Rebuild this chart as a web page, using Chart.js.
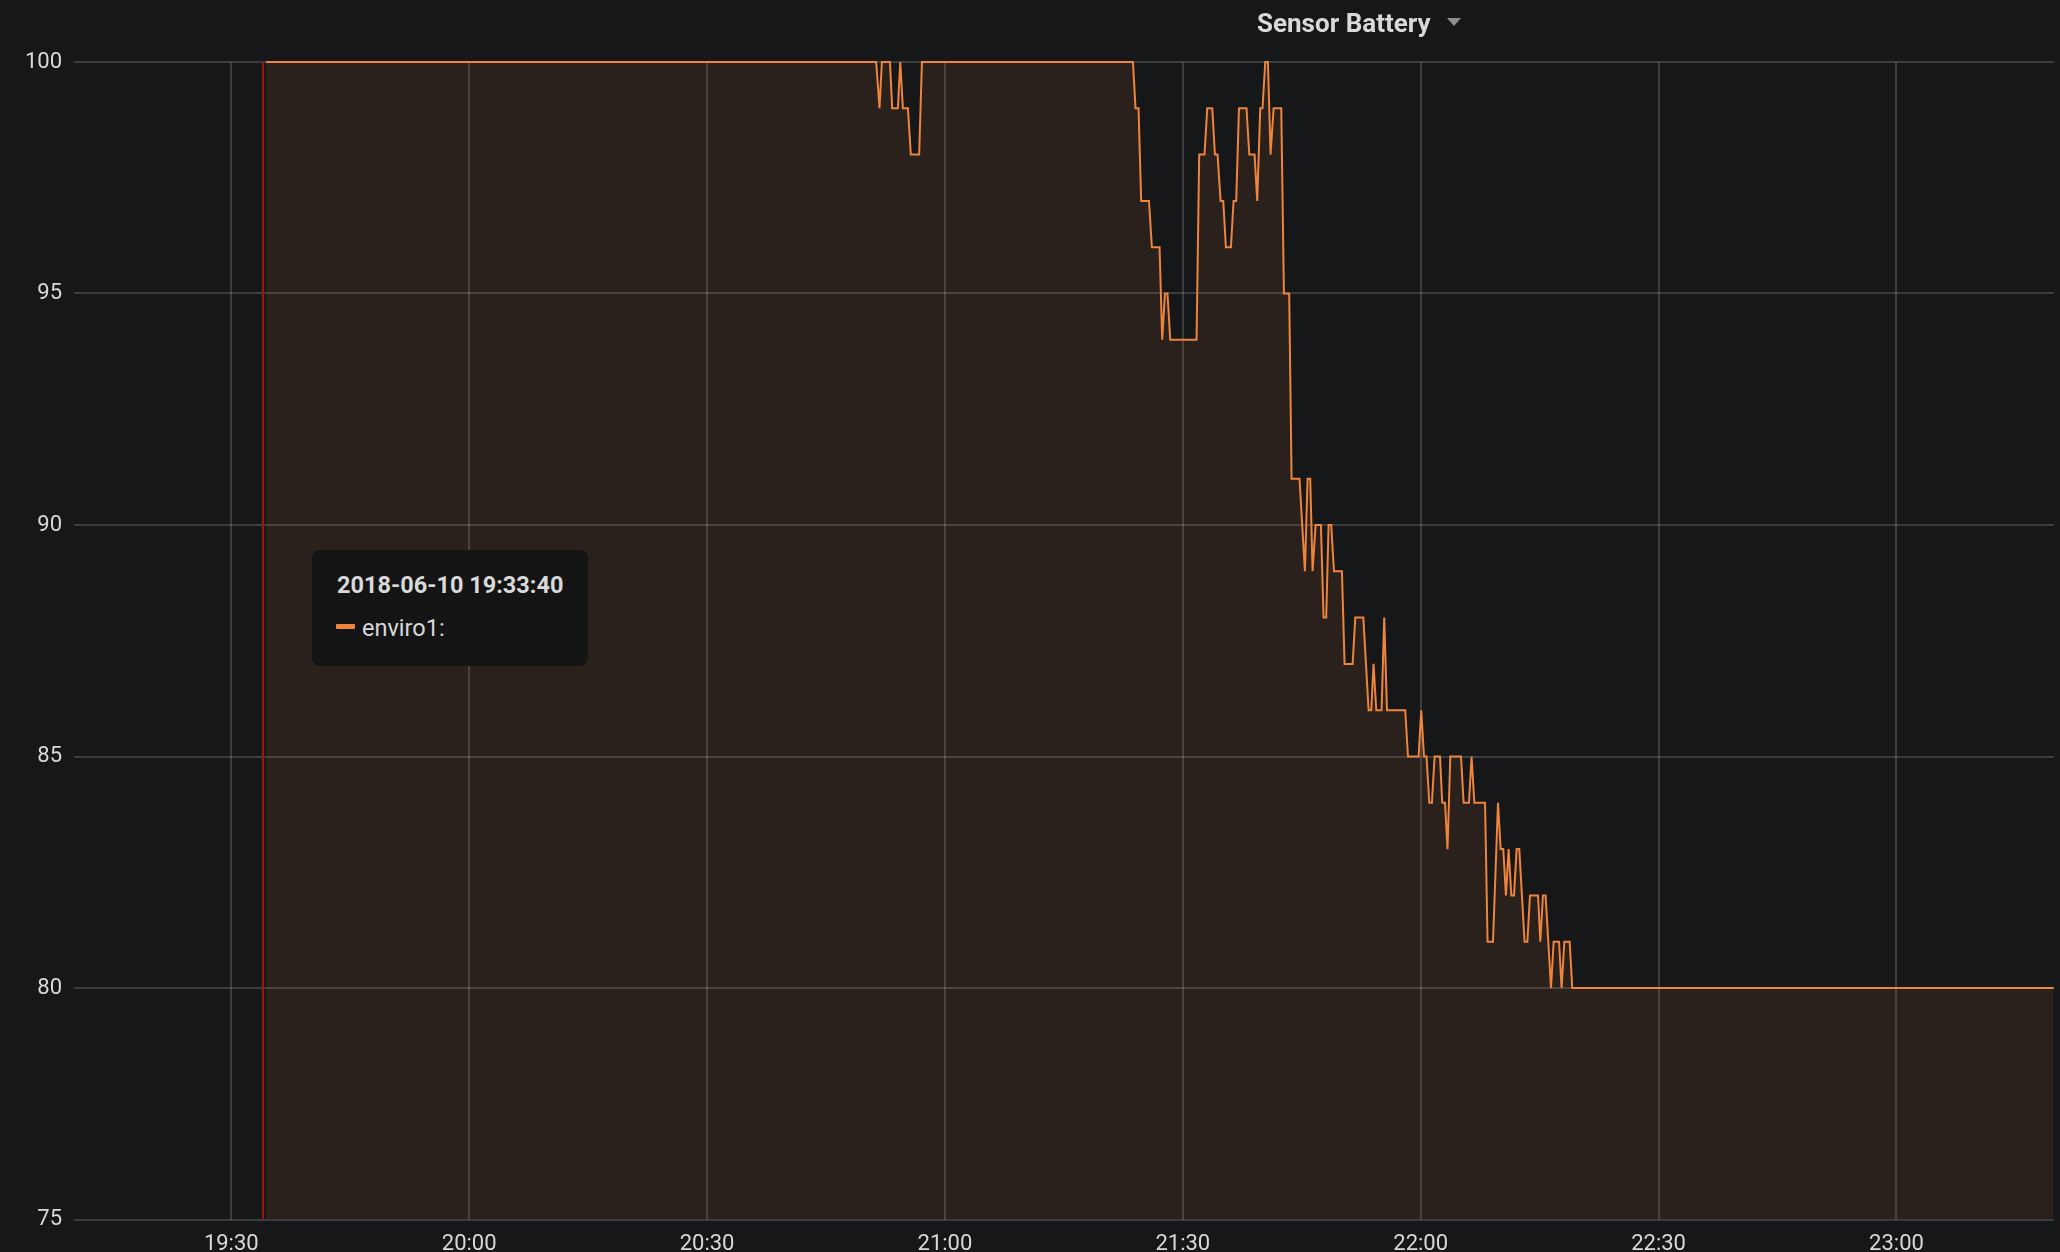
<!DOCTYPE html>
<html>
<head>
<meta charset="utf-8">
<title>Sensor Battery</title>
<script src="https://cdn.jsdelivr.net/npm/chart.js@4.4.1/dist/chart.umd.min.js"></script>
<style>
  html, body { margin: 0; padding: 0; background: #161719; }
  body { width: 2060px; height: 1252px; overflow: hidden; position: relative; font-family: Roboto, "Helvetica Neue", Arial, sans-serif; }
  #chart { position: absolute; left: 0; top: 0; }
  .panel-title { position: absolute; left: 1257px; top: 5px; color: #d8d9da; font-size: 26px; font-weight: bold; line-height: 36px; white-space: nowrap; }
  .panel-caret { position: absolute; left: 1447px; top: 18px; width: 0; height: 0; border-left: 7px solid transparent; border-right: 7px solid transparent; border-top: 8px solid #8e8e8e; }
  .graph-tooltip { position: absolute; left: 312px; top: 550px; width: 276px; height: 116px; background: #141414; border-radius: 8px; color: #d8d9da; }
  .graph-tooltip .time { position: absolute; left: 25px; top: 20px; font-size: 23.5px; font-weight: bold; line-height: 30px; white-space: nowrap; }
  .graph-tooltip .dash { position: absolute; left: 24px; top: 74px; width: 19px; height: 5px; background: #ef843c; border-radius: 1px; }
  .graph-tooltip .series { position: absolute; left: 50px; top: 63px; font-size: 23.5px; line-height: 30px; white-space: nowrap; }
</style>
</head>
<body>
<canvas id="chart" width="2060" height="1252"></canvas>
<div class="panel-title">Sensor Battery</div>
<div class="panel-caret"></div>
<div class="graph-tooltip">
  <div class="time">2018-06-10 19:33:40</div>
  <div class="dash"></div>
  <div class="series">enviro1:</div>
</div>
<script>
// Battery readings for enviro1 (corner points of the trace)
const sampleTimes = [
  '19:34:23', '20:51:20', '20:51:45', '20:52:03', '20:53:04', '20:53:21', '20:54:04', '20:54:22',
  '20:54:42', '20:55:20', '20:55:42', '20:56:45', '20:57:06', '21:23:43', '21:24:02', '21:24:25',
  '21:24:45', '21:25:44', '21:26:06', '21:27:04', '21:27:24', '21:27:45', '21:28:04', '21:28:25',
  '21:31:44', '21:32:04', '21:32:44', '21:33:05', '21:33:43', '21:34:03', '21:34:23', '21:34:46',
  '21:35:06', '21:35:26', '21:36:04', '21:36:24', '21:36:44', '21:37:05', '21:38:02', '21:38:23',
  '21:39:03', '21:39:23', '21:39:46', '21:40:03', '21:40:24', '21:40:44', '21:41:04', '21:41:27',
  '21:42:25', '21:42:45', '21:43:25', '21:43:43', '21:44:43', '21:45:24', '21:45:44', '21:46:04',
  '21:46:22', '21:46:45', '21:47:25', '21:47:45', '21:48:05', '21:48:23', '21:48:43', '21:49:04',
  '21:50:04', '21:50:24', '21:51:25', '21:51:45', '21:52:46', '21:53:26', '21:53:46', '21:54:03',
  '21:54:24', '21:55:04', '21:55:24', '21:55:45', '21:58:03', '21:58:24', '21:59:44', '22:00:04',
  '22:00:25', '22:00:44', '22:01:05', '22:01:25', '22:01:45', '22:02:26', '22:02:43', '22:03:04',
  '22:03:23', '22:03:44', '22:05:05', '22:05:25', '22:06:05', '22:06:25', '22:06:46', '22:08:07',
  '22:08:26', '22:09:07', '22:09:45', '22:10:05', '22:10:25', '22:10:45', '22:11:05', '22:11:26',
  '22:11:46', '22:12:06', '22:12:26', '22:13:06', '22:13:27', '22:13:47', '22:14:48', '22:15:05',
  '22:15:25', '22:15:45', '22:16:26', '22:16:46', '22:17:27', '22:17:46', '22:18:07', '22:18:47',
  '22:19:07', '23:19:50'
];
const batteryValues = [
  100, 100, 99, 100, 100, 99, 99, 100,
  99, 99, 98, 98, 100, 100, 99, 99,
  97, 97, 96, 96, 94, 95, 95, 94,
  94, 98, 98, 99, 99, 98, 98, 97,
  97, 96, 96, 97, 97, 99, 99, 98,
  98, 97, 99, 99, 100, 100, 98, 99,
  99, 95, 95, 91, 91, 89, 91, 91,
  89, 90, 90, 88, 88, 90, 90, 89,
  89, 87, 87, 88, 88, 86, 86, 87,
  86, 86, 88, 86, 86, 85, 85, 86,
  85, 85, 84, 84, 85, 85, 84, 84,
  83, 85, 85, 84, 84, 85, 84, 84,
  81, 81, 84, 83, 83, 82, 83, 82,
  82, 83, 83, 81, 81, 82, 82, 81,
  82, 82, 80, 81, 81, 80, 81, 81,
  80, 80
];

const seriesName = 'enviro1';
const xTickLabels = ['19:30', '20:00', '20:30', '21:00', '21:30', '22:00', '22:30', '23:00'];
const yTickValues = [75, 80, 85, 90, 95, 100];
const rangeStart = '19:10:10';
const rangeEnd = '23:19:52';
const crosshairTime = '19:34:00';

function toSec(t) {
  const p = t.split(':').map(Number);
  return p[0] * 3600 + p[1] * 60 + (p[2] || 0);
}

function fmtTime(sec) {
  const h = Math.floor(sec / 3600);
  const m = Math.round((sec % 3600) / 60);
  return String(h).padStart(2, '0') + ':' + String(m).padStart(2, '0');
}

const points = sampleTimes.map((t, i) => ({ x: toSec(t), y: batteryValues[i] }));

// red hover line like grafana's crosshair
const crosshair = {
  id: 'crosshair',
  afterDatasetsDraw(chart) {
    const x = chart.scales.x.getPixelForValue(toSec(crosshairTime));
    const area = chart.chartArea;
    const ctx = chart.ctx;
    ctx.save();
    ctx.strokeStyle = '#a3111a';
    ctx.lineWidth = 2;
    ctx.beginPath();
    ctx.moveTo(x, area.top);
    ctx.lineTo(x, area.bottom);
    ctx.stroke();
    ctx.restore();
  }
};

const tickFont = { family: 'Roboto, "Helvetica Neue", Arial, sans-serif', size: 22 };
const gridColor = 'rgba(255,255,255,0.16)';

new Chart(document.getElementById('chart'), {
  type: 'line',
  data: {
    datasets: [{
      label: seriesName,
      data: points,
      borderColor: '#ef843c',
      backgroundColor: 'rgba(239,132,60,0.1)',
      borderWidth: 2,
      fill: 'start',
      tension: 0,
      pointRadius: 0,
      clip: 5
    }]
  },
  options: {
    responsive: false,
    animation: false,
    devicePixelRatio: 1,
    layout: { padding: { left: 0, top: 62, right: 6, bottom: 0 } },
    plugins: {
      legend: { display: false },
      tooltip: { enabled: false }
    },
    scales: {
      x: {
        type: 'linear',
        min: toSec(rangeStart),
        max: toSec(rangeEnd),
        afterBuildTicks: scale => { scale.ticks = xTickLabels.map(l => ({ value: toSec(l) })); },
        afterFit: scale => { scale.height = 32.5; },
        grid: { color: gridColor, lineWidth: 2, drawTicks: false },
        border: { display: false },
        ticks: {
          color: '#d8d9da',
          font: tickFont,
          padding: 12,
          maxRotation: 0,
          autoSkip: false,
          callback: value => fmtTime(value)
        }
      },
      y: {
        min: 75,
        max: 100,
        afterBuildTicks: scale => { scale.ticks = yTickValues.map(v => ({ value: v })); },
        afterFit: scale => { scale.width = 74; },
        grid: { color: gridColor, lineWidth: 2, drawTicks: false },
        border: { display: false },
        ticks: {
          color: '#d8d9da',
          font: tickFont,
          padding: 12
        }
      }
    }
  },
  plugins: [crosshair]
});
</script>
</body>
</html>
